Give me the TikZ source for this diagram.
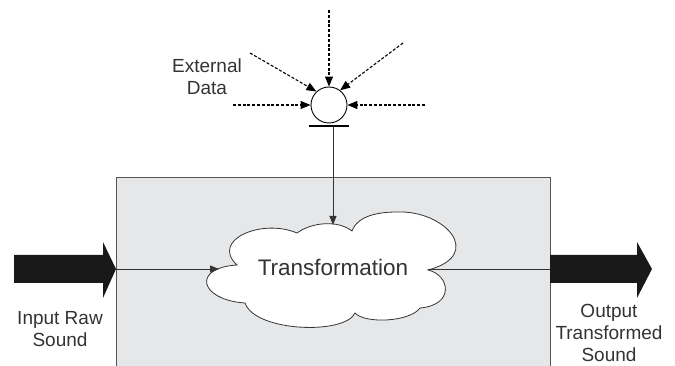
\documentclass[tikz,border=0pt]{standalone}
\usepackage{fontspec}
\setmainfont{Liberation Sans}
\usetikzlibrary{arrows.meta}
\definecolor{boxgray}{HTML}{E6E7E9}
\definecolor{edge}{HTML}{555555}
\definecolor{ink}{HTML}{333333}
\begin{document}
\begin{tikzpicture}[x=1pt,y=-1pt,
  thinline/.style={draw=ink, line width=0.8pt},
  feed/.style={thinline, -{Triangle[length=9pt,width=7pt]}},
  extfeed/.style={draw=black, line width=1.1pt, dash pattern=on 3pt off 1.8pt,
    -{Triangle[length=10pt,width=8pt]}},
  lbl/.style={text=ink, font=\fontsize{19}{22}\selectfont, align=center, inner sep=0pt},
  bigarrow/.style={fill=black!90, draw=none}]
\useasboundingbox (0,0) rectangle (675,366);
\clip (0,0) rectangle (675,366);

% processing block
\path[fill=boxgray, draw=edge, line width=0.8pt] (116,177) rectangle (550,380);

% sound in and out
\path[bigarrow] (14,255) -- (103,255) -- (103,242) -- (116,269) -- (103,298) -- (103,283) -- (14,283) -- cycle;
\path[bigarrow] (550,255) -- (637,255) -- (637,242) -- (652,269) -- (637,298) -- (637,283) -- (550,283) -- cycle;

% cloud outline
\path[fill=white, draw=ink, line width=0.8pt]
  (237,265) .. controls (210,240) and (262,218) .. (297,233)
  .. controls (312,222) and (338,220) .. (352,231)
  .. controls (358,215) and (380,212) .. (397,212)
  .. controls (445,210) and (485,255) .. (428,270)
  .. controls (450,275) and (455,305) .. (420,308)
  .. controls (410,322) and (365,324) .. (355,313)
  .. controls (345,335) and (255,332) .. (245,303)
  .. controls (200,300) and (191,268) .. (237,265) -- cycle;
\node[text=ink, font=\fontsize{22.5}{26}\selectfont, inner sep=0pt, anchor=base] (tr) at (333,276) {Transformation};

\coordinate (boxin) at (116,269);
\coordinate (boxout) at (550,269);
\coordinate (cloudin) at (219,269);
\coordinate (cloudout) at (428,269);
\coordinate (cloudtop) at (333,225);

\draw[feed] (boxin) -- (cloudin);
\draw[thinline] (cloudout) -- (boxout);

% external data collector
\node[circle, draw=black, line width=0.9pt, fill=white, minimum size=36pt, inner sep=0pt] (ext) at (329,105) {};
\coordinate (barL) at (309,126);
\coordinate (barR) at (349,126);
\coordinate (barM) at (333,126);
\draw[black, line width=2.4pt] (barL) -- (barR);
\draw[feed] (barM) -- (cloudtop);

\coordinate (s1) at (329,10);
\coordinate (s2) at (250,53);
\coordinate (s3) at (403,43);
\coordinate (s4) at (233,105);
\coordinate (s5) at (425,105);
\draw[extfeed] (s1) -- (ext.90);
\draw[extfeed] (s2) -- (ext.133);
\draw[extfeed] (s3) -- (ext.53);
\draw[extfeed] (s4) -- (ext.180);
\draw[extfeed] (s5) -- (ext.0);

% labels (base anchor sits on the last line)
\node[lbl, anchor=base] (extlbl) at (207,95) {External\\Data};
\node[lbl, anchor=base] (inlbl) at (60,346) {Input Raw\\Sound};
\node[lbl, anchor=base] (outlbl) at (609,361) {Output\\Transformed\\Sound};
\end{tikzpicture}
\end{document}
